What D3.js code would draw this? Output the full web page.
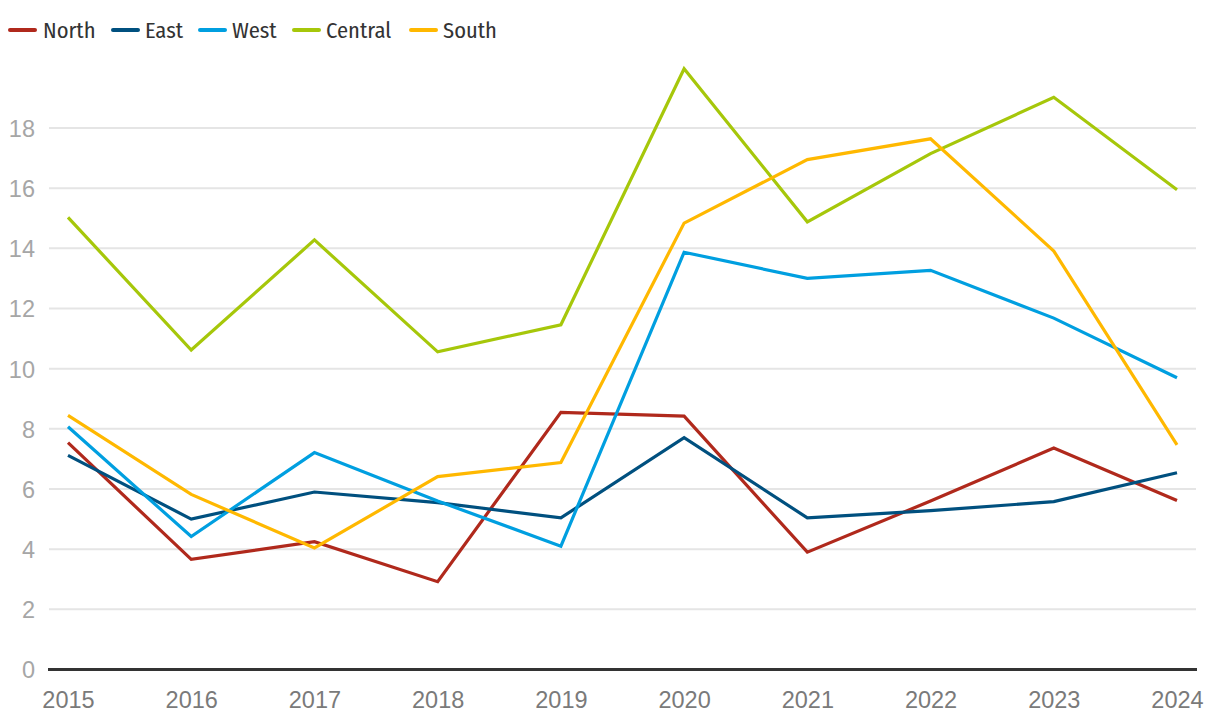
<!DOCTYPE html>
<html>
<head>
<meta charset="utf-8">
<script src="https://cdn.jsdelivr.net/npm/d3@7"></script>
<style>
  html, body { margin: 0; padding: 0; background: #fff; }
  svg { display: block; font-family: "Fira Sans Condensed", "Liberation Sans Narrow", "DejaVu Sans Condensed", sans-serif; }
</style>
</head>
<body>
<svg id="chart" width="1220" height="724"></svg>
<script>
const years = [2015, 2016, 2017, 2018, 2019, 2020, 2021, 2022, 2023, 2024];
const seriesNames = ["North", "East", "West", "Central", "South"];
const north   = [7.54, 3.66, 4.25, 2.92, 8.55, 8.42, 3.90, 5.60, 7.36, 5.62];
const east    = [7.12, 5.00, 5.90, 5.55, 5.04, 7.71, 5.04, 5.28, 5.58, 6.54];
const west    = [8.07, 4.42, 7.21, 5.60, 4.10, 13.87, 13.00, 13.27, 11.68, 9.70];
const central = [15.03, 10.62, 14.28, 10.56, 11.46, 19.97, 14.88, 17.15, 19.02, 15.95];
const south   = [8.45, 5.82, 4.04, 6.41, 6.88, 14.84, 16.95, 17.64, 13.91, 7.47];
const yTicks  = [0, 2, 4, 6, 8, 10, 12, 14, 16, 18];
const colors  = ["#b0291c", "#00507f", "#009fe0", "#a6c70a", "#ffb800"];
const values  = [north, east, west, central, south];

const svg = d3.select("#chart");
const x = d3.scalePoint().domain(years).range([68, 1177]);
const y = d3.scaleLinear().domain([0, 18]).range([669.5, 128]);

// y axis labels
const yAxis = d3.axisLeft(y).tickValues(yTicks).tickSize(0).tickPadding(0).tickFormat(d3.format("d"));
const gy = svg.append("g").attr("transform", "translate(35,0)").call(yAxis);
gy.select(".domain").remove();
gy.selectAll("text").attr("fill", "#a6a6a6").attr("font-size", 23.5).attr("font-family", null).attr("dy", "0.36em").attr("x", 0);

// gridlines
svg.append("g").selectAll("line").data(yTicks.filter(d => d !== 0)).join("line")
  .attr("x1", 49).attr("x2", 1196)
  .attr("y1", d => y(d)).attr("y2", d => y(d))
  .attr("stroke", "#e5e5e5").attr("stroke-width", 2);

// x axis
const xAxis = d3.axisBottom(x).tickSize(0).tickPadding(0);
const gx = svg.append("g").attr("transform", `translate(0,${y(0)})`).call(xAxis);
gx.select(".domain").remove();
gx.selectAll("text").attr("fill", "#7a7a7a").attr("font-size", 23.5).attr("font-family", null).attr("dy", null).attr("y", 38);

svg.append("line").attr("x1", 48).attr("x2", 1197).attr("y1", y(0)).attr("y2", y(0))
  .attr("stroke", "#333").attr("stroke-width", 3);

// lines
const line = d3.line().x((d, i) => x(years[i])).y(d => y(d));
svg.append("g").selectAll("path").data(values).join("path")
  .attr("d", line)
  .attr("fill", "none")
  .attr("stroke", (d, i) => colors[i])
  .attr("stroke-width", 3.2)
  .attr("stroke-linejoin", "miter")
  .attr("stroke-linecap", "butt");

// legend
const legX = [9, 112, 199, 293, 410];
const leg = svg.append("g").selectAll("g").data(seriesNames).join("g")
  .attr("transform", (d, i) => `translate(${legX[i]},30)`);
leg.append("line").attr("x1", 1).attr("x2", 26).attr("y1", 0).attr("y2", 0)
  .attr("stroke", (d, i) => colors[i]).attr("stroke-width", 4).attr("stroke-linecap", "round");
leg.append("text").attr("x", (d, i) => i === 0 ? 34 : 33).attr("y", 0).attr("dy", "0.36em")
  .attr("font-size", 22.5).attr("fill", "#333").text(d => d);
</script>
</body>
</html>
